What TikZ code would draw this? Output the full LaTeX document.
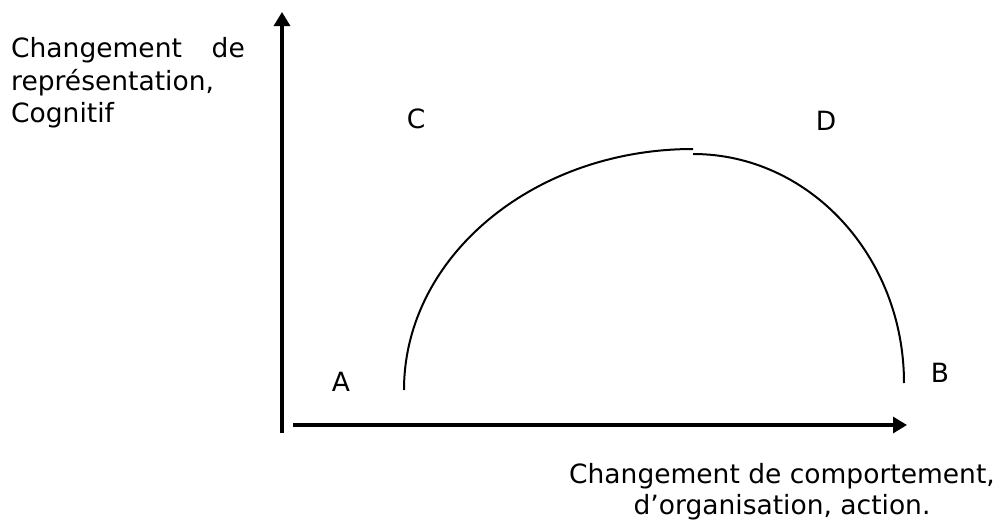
\documentclass[tikz,border=0pt]{standalone}
\usepackage{fontspec}
\setmainfont{DejaVu Sans}
\usetikzlibrary{arrows.meta}
\tikzset{
  axis/.style={line width=3.2pt, -{Triangle[length=14pt,width=16pt]}},
  curve/.style={line width=2pt},
  lbl/.style={inner sep=0pt, font=\fontsize{26.5}{32.5}\selectfont},
}
\begin{document}
\begin{tikzpicture}[x=1pt,y=-1pt]
\useasboundingbox (0,0) rectangle (999,525);
% axes
\coordinate (yb) at (282,433);
\coordinate (yt) at (282,12);
\coordinate (xl) at (293,425);
\coordinate (xr) at (907,425);
\draw[axis] (yb) -- (yt);
\draw[axis] (xl) -- (xr);
% arcs
\coordinate (a1) at (404,390);
\coordinate (a2) at (693,154);
\draw[curve] (a1) arc[start angle=180, end angle=90, x radius=289pt, y radius=241pt];
\draw[curve] (a2) arc[start angle=90, end angle=0, x radius=211pt, y radius=229pt];
% letters
\node[lbl] (A) at (341,382) {A};
\node[lbl] (B) at (940,373) {B};
\node[lbl] (C) at (416,119) {C};
\node[lbl] (D) at (826,121) {D};
% axis labels
\node[lbl, anchor=base west] (yl1) at (11,57) {Changement};
\node[lbl, anchor=base east] (yl1b) at (245,57) {de};
\node[lbl, anchor=base west] (yl2) at (11,90) {représentation,};
\node[lbl, anchor=base west] (yl3) at (11,122) {Cognitif};
\node[lbl, anchor=base] (xl1) at (782,483) {Changement de comportement,};
\node[lbl, anchor=base] (xl2) at (782,514) {d’organisation, action.};
\end{tikzpicture}
\end{document}
